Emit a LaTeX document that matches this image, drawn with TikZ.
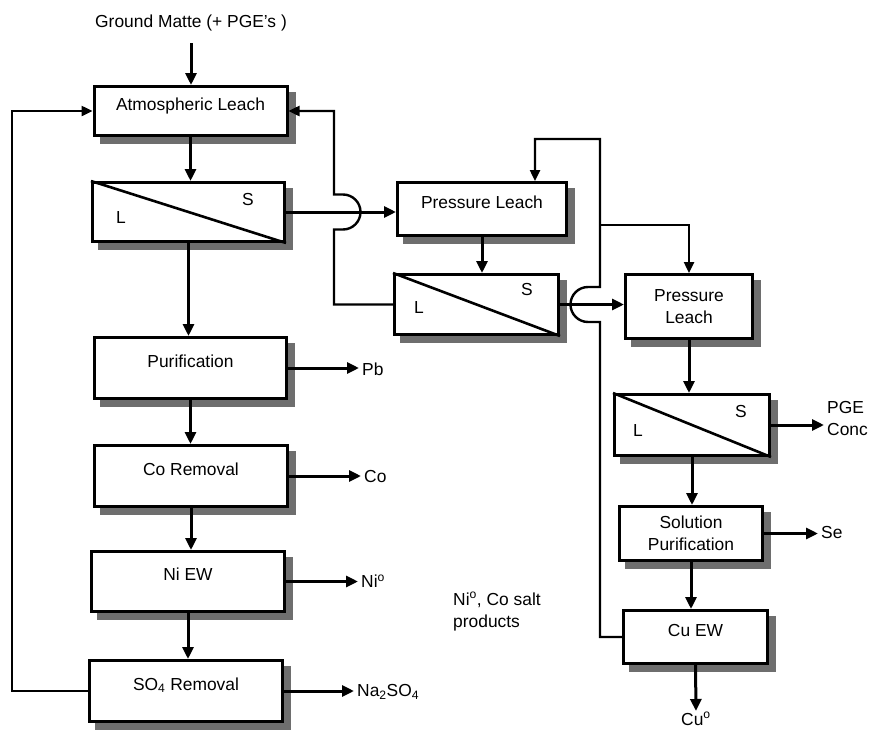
\documentclass[tikz,border=0pt]{standalone}
\usepackage{fontspec}
\setmainfont{Liberation Sans}
\usetikzlibrary{arrows.meta,backgrounds}
\definecolor{shadowgray}{RGB}{110,110,110}

\tikzset{
  proc/.style={draw,line width=3pt,fill=white,inner sep=0pt,align=center},
  toptext/.style={text height=13pt,text depth=15pt},
  flow/.style={line width=3pt,-{Triangle[length=12pt,width=11pt]}},
  recyc/.style={line width=2.4pt},
  recycin/.style={recyc,-{Triangle[length=11pt,width=10pt]}},
  lbl/.style={inner sep=3pt}
}

\begin{document}
\begin{tikzpicture}[x=1pt,y=-1pt,font=\fontsize{17.4}{22}\selectfont]
                \useasboundingbox (0,0) rectangle (871,731);
                %% feed
                \node[lbl] (feed) at (191,23) {Ground Matte (+ PGE’s )};
                %% left column
                \node[proc,toptext,minimum width=193pt,minimum height=49pt] (atm) at (190.5,111) {Atmospheric Leach};
                \node[proc,minimum width=192pt,minimum height=59pt] (sepA) at (188.5,212) {};
                \node[proc,toptext,minimum width=192pt,minimum height=61pt] (pur) at (190.5,368) {Purification};
                \node[proc,toptext,minimum width=193pt,minimum height=61pt] (cor) at (191,476) {Co Removal};
                \node[proc,toptext,minimum width=193pt,minimum height=60pt] (niew) at (188,581.5) {Ni EW};
                \node[proc,toptext,minimum width=193pt,minimum height=61pt] (so4) at (186,691) {SO\textsubscript{4} Removal};
                %% right part
                \node[proc,toptext,minimum width=169pt,minimum height=53pt] (plA) at (482,209) {Pressure Leach};
                \node[proc,minimum width=164pt,minimum height=60pt] (sepB) at (476.5,304.5) {};
                \node[proc,minimum width=127pt,minimum height=64pt] (plB) at (689,306.5) {Pressure\\Leach};
                \node[proc,minimum width=155pt,minimum height=61pt] (sepC) at (692,425) {};
                \node[proc,minimum width=143pt,minimum height=54pt] (solp) at (691,533.5) {Solution\\Purification};
                \node[proc,toptext,minimum width=144pt,minimum height=53pt] (cuew) at (695.5,637) {Cu EW};
                %% shadows
                \begin{scope}[on background layer]
                    \foreach \b in {atm,sepA,pur,cor,niew,so4,plA,sepB,plB,sepC,solp,cuew}
                        \fill[shadowgray] ([shift={(7pt,-7pt)}]\b.south west) rectangle ([shift={(7pt,-7pt)}]\b.north east);
                \end{scope}
                %% solid/liquid splits
                \draw[line width=2.6pt] (sepA.north west) -- (sepA.south east);
                \draw[line width=2.6pt] (sepB.north west) -- (sepB.south east);
                \draw[line width=2.6pt] (sepC.north west) -- (sepC.south east);
                \node (sA) at (248,200) {S};
                \node (lA) at (121,218) {L};
                \node (sB) at (527,290) {S};
                \node (lB) at (419,308) {L};
                \node (sC) at (741,412) {S};
                \node (lC) at (638,431) {L};
                %% products
                \node[lbl,anchor=west] (pb) at (359,369) {Pb};
                \node[lbl,anchor=west] (co) at (361,477) {Co};
                \node[lbl,anchor=west] (ni) at (358,581) {Ni\textsuperscript{o}};
                \node[lbl,anchor=west] (na) at (354,692) {Na\textsubscript{2}SO\textsubscript{4}};
                \node[lbl,anchor=west,align=left] (pge) at (824,419) {PGE\\Conc};
                \node[lbl,anchor=west] (se) at (818,533) {Se};
                \node[lbl,anchor=north,inner sep=1pt] (cu) at (696,711) {Cu\textsuperscript{o}};
                \node[lbl,anchor=north west,align=left] (salts) at (450,589) {Ni\textsuperscript{o}, Co salt\\products};
                %% main flow
                \draw[flow,shorten <=9pt] (feed.south) -- (feed.south |- atm.north);
                \draw[flow] (atm.south) -- (atm.south |- sepA.north);
                \draw[flow] (sepA.south) -- (sepA.south |- pur.north);
                \draw[flow] (pur.south) -- (pur.south |- cor.north);
                \draw[flow] (cor.south) -- (cor.south |- niew.north);
                \draw[flow] (niew.south) -- (niew.south |- so4.north);
                \draw[flow] (pur.east) -- (pur.east -| pb.west);
                \draw[flow] (cor.east) -- (cor.east -| co.west);
                \draw[flow] (niew.east) -- (niew.east -| ni.west);
                \draw[flow] (so4.east) -- (so4.east -| na.west);
                \draw[flow] (sepA.east) -- (sepA.east -| plA.west);
                \draw[flow] (plA.south) -- (plA.south |- sepB.north);
                \draw[flow] (sepB.east) -- (sepB.east -| plB.west);
                \draw[flow] (plB.south) -- (plB.south |- sepC.north);
                \draw[flow] (sepC.east) -- (sepC.east -| pge.west);
                \draw[flow] (sepC.south) -- (sepC.south |- solp.north);
                \draw[flow] (solp.east) -- (solp.east -| se.west);
                \draw[flow] (solp.south) -- (solp.south |- cuew.north);
                \draw[flow] (cuew.south) -- (cu.north);
                %% recycles
                \coordinate (loopL) at (12,0);
                \coordinate (topA) at (535,139);
                \coordinate (brB) at (600,225);
                \draw[recycin] (so4.west) -- (so4.west -| loopL) |- (atm.west);
                \draw[recycin] (sepB.west) -| (334,229.5) -- (343,229.5)
                    arc[start angle=90,end angle=-90,radius=17.5] -- (334,194.5) |- (atm.east);
                \draw[recycin] (cuew.west) -| (600,322) -- (588,322)
                    arc[start angle=90,end angle=270,radius=17.5] -- (600,287) |- (topA) -- (topA |- plA.north);
                \draw[recycin] (brB) -| (plB.north);
            \end{tikzpicture}
\end{document}
